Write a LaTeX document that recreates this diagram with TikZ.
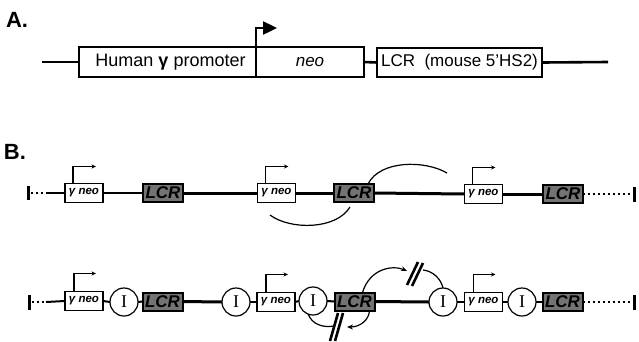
\documentclass[tikz,border=0pt]{standalone}
\usepackage{fontspec}
\setmainfont{Liberation Sans}
\newfontfamily\serifI{Liberation Serif}
\usetikzlibrary{arrows.meta}

\begin{document}
\begin{tikzpicture}[x=1pt,y=-1pt,
  every node/.style={outer sep=0pt},
  panel/.style={font=\fontsize{22}{22}\selectfont\bfseries, inner sep=0pt, anchor=base west},
  box/.style={draw, line width=2.4pt, inner sep=0pt, font=\fontsize{17}{17}\selectfont},
  lineA/.style={line width=2.6pt},
  gbox/.style={draw, line width=1.2pt, minimum width=38, minimum height=19, inner sep=0pt,
    font=\fontsize{11.5}{11.5}\selectfont\bfseries\itshape},
  lcrbox/.style={draw, line width=2pt, fill=black!55, minimum width=40, minimum height=18,
    inner sep=0pt, font=\fontsize{17}{17}\selectfont\bfseries\itshape},
  ins/.style={circle, draw, line width=1.2pt, minimum size=28, inner sep=0pt,
    font=\serifI\fontsize{18}{18}\selectfont},
  thinline/.style={line width=2pt},
  thickline/.style={line width=3pt},
  dots/.style={line width=2.4pt, dash pattern=on 2.2pt off 2.8pt},
  endbar/.style={line width=3pt},
  prom/.style={line width=1.1pt, -{Stealth[length=4.5pt,width=4pt]}},
  loopline/.style={line width=1.2pt},
  looparrow/.style={line width=1.2pt, -{Stealth[length=6pt,width=5pt]}},
  block/.style={line width=2.6pt}
]
\useasboundingbox (0,0) rectangle (639,341);

% ---------------- A: construct ----------------
\node[panel] (labA) at (6,27) {A.};
\node[box, minimum width=177, minimum height=30, font=\fontsize{18}{18}\selectfont]
  (hp) at (167.5,62) {\hspace{6pt}Human \textbf{γ} promoter};
\node[box, minimum width=108, minimum height=30] (neo) at (310,62) {\itshape neo};
\node[box, minimum width=165, minimum height=29] (lcrA) at (459.5,62.5) {LCR\ \ (mouse 5'HS2)};
\coordinate (aL) at (42,62);
\coordinate (aR) at (608,62);
\draw[lineA] (aL) -- (hp.west);
\draw[lineA] (neo.east) -- (lcrA.west);
\draw[lineA] (lcrA.east) -- (aR);
\draw[line width=2.4pt, line join=miter, -{Triangle[length=14pt,width=13pt]}]
  (hp.north east) -- ++(0,-19) -- ++(21,0);

% ---------------- B: tandem copies ----------------
\node[panel] (labB) at (4,159) {B.};

% row 1: no insulators
\node[gbox] (g1) at (84,193) {γ neo};
\node[lcrbox] (l1) at (163,193) {LCR};
\node[gbox] (g2) at (276.5,193) {γ neo};
\node[lcrbox] (l2) at (354,193) {LCR};
\node[gbox] (g3) at (483.5,194) {γ neo};
\node[lcrbox] (l3) at (563,194) {LCR};

\coordinate (e1a) at (28,186); \coordinate (e1b) at (28,200);
\coordinate (d1a) at (31,193); \coordinate (d1b) at (46,193);
\coordinate (d2b) at (631,194);
\coordinate (e2a) at (634,187); \coordinate (e2b) at (634,202);
\draw[endbar] (e1a) -- (e1b);
\draw[dots] (d1a) -- (d1b);
\draw[thinline] (d1b) -- (g1.west);
\draw[thinline] (g1.east) -- (l1.west);
\draw[thickline] (l1.east) -- (g2.west);
\draw[thickline] (g2.east) -- (l2.west);
\draw[thickline] (l2.east) -- (g3.west);
\draw[thickline] (g3.east) -- (l3.west);
\draw[dots] (l3.east) -- (d2b);
\draw[endbar] (e2a) -- (e2b);

\foreach \g in {g1,g2,g3}
  \draw[prom] ([xshift=8pt]\g.north west) -- ++(0,-17) -- ++(23,0);

% LCR acting on neighbouring promoters
\coordinate (c1) at (270,215);
\coordinate (c2) at (447,173);
\draw[loopline] (c1) .. controls (290,230) and (336,230) .. ([xshift=-4pt,yshift=-5pt]l2.south);
\draw[loopline] ([xshift=14pt]l2.north) .. controls (380,160) and (425,160) .. (c2);

% row 2: insulators flanking each copy
\node[gbox] (g4) at (84,301) {γ neo};
\node[ins] (i1) at (124,302) {I};
\node[lcrbox] (l4) at (162.5,301.5) {LCR};
\node[ins] (i2) at (236,302) {I};
\node[gbox] (g5) at (276,302) {γ neo};
\node[ins] (i3) at (313,301) {I};
\node[lcrbox] (l5) at (354.5,301.5) {LCR};
\node[ins] (i4) at (443,302) {I};
\node[gbox] (g6) at (483.5,302) {γ neo};
\node[ins] (i5) at (522,302) {I};
\node[lcrbox] (l6) at (562.5,302) {LCR};

\coordinate (e3a) at (29,295); \coordinate (e3b) at (29,310);
\coordinate (d3a) at (32,302); \coordinate (d3b) at (46,302);
\coordinate (d4b) at (631,302);
\coordinate (e4a) at (634,295); \coordinate (e4b) at (634,310);
\draw[endbar] (e3a) -- (e3b);
\draw[dots] (d3a) -- (d3b);
\draw[thinline] (d3b) -- (g4.west);
\draw[thinline] (g4.east) -- (i1.west);
\draw[thinline] (i1.east) -- (l4.west);
\draw[thickline] (l4.east) -- (i2.west);
\draw[thinline] (i2.east) -- (g5.west);
\draw[thinline] (g5.east) -- (i3.west);
\draw[thinline] (i3.east) -- (l5.west);
\draw[thickline] (l5.east) -- (i4.west);
\draw[thinline] (i4.east) -- (g6.west);
\draw[thinline] (g6.east) -- (i5.west);
\draw[thinline] (i5.east) -- (l6.west);
\draw[dots] (l6.east) -- (d4b);
\draw[endbar] (e4a) -- (e4b);

\foreach \g in {g4,g5,g6}
  \draw[prom] ([xshift=9pt]\g.north west) -- ++(0,-18) -- ++(22,0);

% blocked interactions across the insulators
\coordinate (k1) at (407,271);
\coordinate (k2) at (423,270);
\coordinate (s1a) at (407,285); \coordinate (s1b) at (418,262);
\coordinate (s2a) at (412,286); \coordinate (s2b) at (423,263);
\draw[looparrow] ([xshift=8pt]l5.north) .. controls (370,268) and (393,265) .. (k1);
\draw[block] (s1a) -- (s1b);
\draw[block] (s2a) -- (s2b);
\draw[loopline] (k2) .. controls (433,271) and (441,279) .. (i4.north);

\coordinate (k3) at (334,326);
\coordinate (k4) at (347,327);
\coordinate (s3a) at (330,341); \coordinate (s3b) at (338,313);
\coordinate (s4a) at (335,341); \coordinate (s4b) at (343,313);
\draw[loopline] (i3.250) .. controls (312,324) and (322,328) .. (k3);
\draw[block] (s3a) -- (s3b);
\draw[block] (s4a) -- (s4b);
\draw[looparrow] ([xshift=15pt]l5.south) .. controls (369,320) and (360,327) .. (k4);
\end{tikzpicture}
\end{document}
